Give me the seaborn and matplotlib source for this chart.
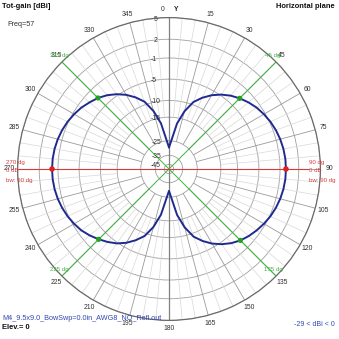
import numpy as np
import pandas as pd
import matplotlib
matplotlib.use("Agg")
import matplotlib.pyplot as plt
import seaborn as sns

# Azimuth pattern (total gain, dBi) every 5 degrees, 0 = +Y, clockwise
azimuth_deg = list(range(0, 360, 5))
gain_dbi = [
    -29.0, -24.5, -17.0, -12.5, -9.3, -7.5, -6.0, -4.8, -3.8, -3.0,
    -2.3, -1.7, -1.25, -0.85, -0.54, -0.3, -0.13, -0.03, 0.0,
    -0.03, -0.13, -0.3, -0.54, -0.85, -1.25, -1.7, -2.2, -2.8, -3.6,
    -4.6, -5.8, -7.3, -9.1, -12.3, -16.8, -24.2,
    -28.8, -24.3, -16.9, -12.4, -9.3, -7.5, -6.0, -4.8, -3.9, -3.1,
    -2.35, -1.7, -1.25, -0.85, -0.54, -0.3, -0.13, -0.03, 0.0,
    -0.03, -0.13, -0.3, -0.54, -0.85, -1.25, -1.7, -2.3, -2.9, -3.7,
    -4.7, -5.9, -7.4, -9.2, -12.4, -16.9, -24.4,
]
ring_db = [5, 2, -1, -5, -10, -15, -25, -35, -45]
angle_ticks = list(range(0, 360, 15))
bw_deg = [45, 135, 225, 315]
max_deg = [90, 270]
freq_label = "Freq=57"
file_label = "M4_9.5x9.0_BowSwp=0.0in_AWG8_NO_Refl.out"
range_label = "-29 < dBi < 0"

# log-like radial scale used for the gain rings
SA, SK, SC = 127.0, 0.048, 10.0


def fwd(d):
    return SA * np.exp(SK * np.asarray(d, dtype=float)) - SC


def inv(r):
    return np.log((np.asarray(r, dtype=float) + SC) / SA) / SK


R_MIN = float(inv(0.0))
R_MAX = 5.0

sns.set_theme(style="white")
plt.rcParams["font.family"] = ["Liberation Sans", "DejaVu Sans"]

W = H = 339
fig = plt.figure(figsize=(W / 100, H / 100), dpi=100)
fig.patch.set_facecolor("white")

cx, cy, rad = 169.0, 169.0, 151.4
ax = fig.add_axes([(cx - rad) / W, (H - cy - rad) / H, 2 * rad / W, 2 * rad / H],
                  projection="polar")
ax.set_facecolor("white")
ax.set_theta_zero_location("N")
ax.set_theta_direction(-1)
ax.set_yscale("function", functions=(fwd, inv))
ax.set_ylim(R_MIN, R_MAX)
ax.set_xticks([])
ax.set_yticks(ring_db)
ax.set_yticklabels([])
ax.yaxis.grid(True, color="#a0a0a0", lw=0.6)
ax.spines["polar"].set_color("#6a6a6a")
ax.spines["polar"].set_linewidth(0.9)

# radial spokes
for a in range(0, 360, 5):
    th = np.deg2rad(a)
    if a % 15 == 0:
        ax.plot([th, th], [-25, R_MAX], color="#9a9a9a", lw=0.6, zorder=1)
    else:
        ax.plot([th, th], [-15, R_MAX], color="#d8d8d8", lw=0.5, zorder=1)

# Y axis
for a in (0, 180):
    ax.plot([np.deg2rad(a)] * 2, [R_MIN, R_MAX], color="#808080", lw=0.9, zorder=2)

red = "#d83a3a"
green = "#3cb43c"
navy = "#1f2a8f"
blue_txt = "#3048b0"

# beam-width lines
for a in bw_deg:
    ax.plot([np.deg2rad(a)] * 2, [R_MIN, R_MAX], color=green, lw=0.7, zorder=3)
# max-gain direction line
ax.plot([np.deg2rad(270)] * 2, [R_MIN, R_MAX], color=red, lw=0.8, zorder=3)
ax.plot([np.deg2rad(90)] * 2, [R_MIN, inv(139.0)], color=red, lw=0.8, zorder=3)

# pattern
df = pd.DataFrame({"az": azimuth_deg + [azimuth_deg[0]],
                   "gain": gain_dbi + [gain_dbi[0]]})
df["theta"] = np.deg2rad(df["az"])
sns.lineplot(data=df, x="theta", y="gain", sort=False, estimator=None,
             color=navy, lw=1.4, ax=ax, zorder=5)

gain_at = dict(zip(azimuth_deg, gain_dbi))
bw_df = pd.DataFrame({"theta": np.deg2rad(bw_deg), "gain": [gain_at[a] for a in bw_deg]})
mx_df = pd.DataFrame({"theta": np.deg2rad(max_deg), "gain": [gain_at[a] for a in max_deg]})
sns.scatterplot(data=bw_df, x="theta", y="gain", color="#22a022", s=14,
                edgecolor="none", ax=ax, zorder=6)
sns.scatterplot(data=mx_df, x="theta", y="gain", color="#e02020", s=16,
                edgecolor="none", ax=ax, zorder=6)
ax.set_xlabel("")
ax.set_ylabel("")

fs = 4.9
dark = "#303030"
# angle labels
lab_r = float(inv(160.0))
for a in angle_ticks:
    if a == 0:
        ax.text(np.deg2rad(-2.2), lab_r, "0", ha="center", va="center",
                fontsize=fs, color=dark, clip_on=False)
        ax.text(np.deg2rad(2.5), lab_r, "Y", ha="center", va="center",
                fontsize=fs, color="#202020", fontweight="bold", clip_on=False)
    else:
        ax.text(np.deg2rad(a), lab_r, str(a), ha="center", va="center",
                fontsize=fs, color=dark, clip_on=False)

# ring labels along the Y axis
for d in ring_db:
    dx = -12 if d > -8 else -8
    ax.annotate(str(d), xy=(0, d), xytext=(dx, -1.5), textcoords="offset pixels",
                ha="right", va="center", fontsize=fs, color=dark,
                annotation_clip=False)

# beam-width labels
for a in bw_deg:
    ax.annotate(f"{a} dg", xy=(np.deg2rad(a), R_MAX), xytext=(-3, 6.3),
                textcoords="offset pixels", ha="center", va="center",
                fontsize=4.4, color=green, annotation_clip=False)


def px(x, y):
    return x / W, 1 - y / H


# max-gain labels
for x0, ang in ((309, "90 dg"), (6, "270 dg")):
    fig.text(*px(x0, 162.5), ang, ha="left", va="center", fontsize=4.4, color=red)
    fig.text(*px(x0, 171), "0 dB", ha="left", va="center", fontsize=4.4, color=red)
    fig.text(*px(x0, 180.5), "bw: 90 dg", ha="left", va="center", fontsize=4.4, color=red)

fig.text(*px(2, 6.5), "Tot-gain [dBi]", ha="left", va="center", fontsize=5.4,
         fontweight="bold", color="#101010")
fig.text(*px(335, 6.5), "Horizontal plane", ha="right", va="center", fontsize=5.4,
         fontweight="bold", color="#101010")
fig.text(*px(7, 25), freq_label, ha="left", va="center", fontsize=5.2, color=dark)
fig.text(*px(2, 318), file_label, ha="left", va="center", fontsize=5.2, color=blue_txt)
fig.text(*px(2, 327.5), "Elev.= 0", ha="left", va="center", fontsize=5.4,
         fontweight="bold", color="#101010")
fig.text(*px(335, 324.5), range_label, ha="right", va="center", fontsize=5.0,
         color=blue_txt)

fig.savefig("out.png", dpi=100, facecolor="white")
